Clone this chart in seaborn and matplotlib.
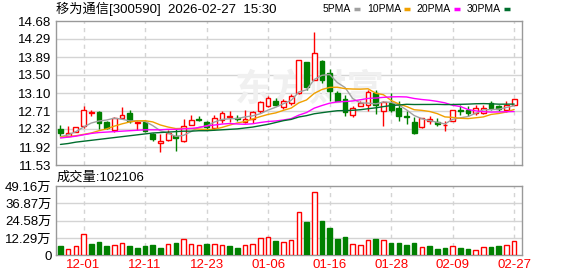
import matplotlib
matplotlib.use("Agg")
import matplotlib.pyplot as plt
from matplotlib.lines import Line2D
import seaborn as sns
import numpy as np
import pandas as pd

# ---------------- data ----------------
dates = ["11-26", "11-27", "11-28", "12-01", "12-02", "12-03", "12-04", "12-05", "12-08", "12-09",
         "12-10", "12-11", "12-12", "12-15", "12-16", "12-17", "12-18", "12-19", "12-22", "12-23",
         "12-24", "12-25", "12-26", "12-29", "12-30", "12-31", "01-05", "01-06", "01-07", "01-08",
         "01-09", "01-12", "01-13", "01-14", "01-15", "01-16", "01-19", "01-20", "01-21", "01-22",
         "01-23", "01-26", "01-27", "01-28", "01-29", "01-30", "02-02", "02-03", "02-04", "02-05",
         "02-06", "02-09", "02-10", "02-11", "02-12", "02-13", "02-24", "02-25", "02-26", "02-27"]

open_ = [12.32, 12.17, 12.25, 12.38, 12.67, 12.68, 12.47, 12.30, 12.56, 12.67,
         12.45, 12.47, 12.20, 12.01, 12.07, 12.16, 12.05, 12.41, 12.54, 12.47,
         12.34, 12.52, 12.58, 12.56, 12.47, 12.54, 12.71, 12.82, 12.92, 12.79,
         12.89, 13.11, 13.78, 13.40, 13.80, 13.55, 13.11, 12.98, 12.62, 12.82,
         12.85, 13.11, 12.71, 12.89, 12.77, 12.61, 12.47, 12.36, 12.50, 12.47,
         12.40, 12.50, 12.73, 12.73, 12.67, 12.67, 12.89, 12.82, 12.74, 12.85]
high = [12.41, 12.39, 12.37, 12.82, 12.74, 12.71, 12.50, 12.58, 12.79, 12.73,
        12.50, 12.51, 12.23, 12.20, 12.30, 12.34, 12.54, 12.63, 12.61, 12.49,
        12.63, 12.71, 12.71, 12.62, 12.74, 12.71, 12.92, 13.05, 13.00, 12.98,
        13.09, 13.82, 13.78, 14.44, 13.82, 13.62, 13.14, 13.06, 12.82, 12.94,
        13.16, 13.16, 12.94, 13.11, 12.94, 12.72, 12.58, 12.56, 12.60, 12.55,
        12.49, 12.74, 12.84, 12.82, 12.84, 12.85, 12.93, 12.85, 12.93, 12.98]
low = [12.16, 12.16, 12.25, 12.34, 12.60, 12.31, 12.31, 12.25, 12.56, 12.45,
       12.30, 12.25, 12.05, 11.81, 12.05, 11.83, 12.03, 12.41, 12.49, 12.30,
       12.30, 12.45, 12.47, 12.49, 12.44, 12.44, 12.67, 12.80, 12.82, 12.76,
       12.85, 13.09, 13.18, 13.38, 13.33, 12.93, 12.93, 12.60, 12.58, 12.82,
       12.72, 12.65, 12.38, 12.69, 12.49, 12.42, 12.21, 12.33, 12.42, 12.38,
       12.27, 12.49, 12.63, 12.60, 12.63, 12.65, 12.74, 12.72, 12.69, 12.85]
close = [12.23, 12.23, 12.36, 12.74, 12.68, 12.45, 12.34, 12.56, 12.63, 12.49,
         12.47, 12.27, 12.10, 12.06, 12.23, 12.12, 12.38, 12.52, 12.52, 12.36,
         12.56, 12.67, 12.60, 12.54, 12.54, 12.68, 12.90, 13.00, 12.85, 12.92,
         13.05, 13.82, 13.23, 13.98, 13.38, 13.14, 12.94, 12.69, 12.77, 12.89,
         13.13, 12.85, 12.90, 12.74, 12.60, 12.59, 12.23, 12.55, 12.53, 12.42,
         12.41, 12.74, 12.71, 12.67, 12.78, 12.78, 12.77, 12.76, 12.85, 12.98]
volume_wan = [6.4, 4.8, 6.3, 14.8, 7.8, 9.2, 6.4, 7.0, 9.0, 6.4,
              5.1, 6.4, 7.1, 4.9, 8.3, 8.6, 11.8, 7.7, 7.0, 7.8,
              8.3, 7.0, 6.4, 5.1, 7.0, 7.8, 12.5, 13.3, 9.9, 9.2,
              11.1, 30.6, 23.6, 44.8, 24.3, 19.4, 11.8, 13.2, 8.1, 7.4,
              10.9, 11.8, 10.9, 8.6, 9.0, 7.6, 9.0, 6.0, 6.9, 4.2,
              4.9, 6.7, 4.9, 4.2, 3.9, 6.0, 5.6, 6.3, 7.4, 10.21]

# moving-average values at the start of the window (history before the window)
ma5_head = [12.15, 12.19, 12.26, 12.36]
ma10_head = [12.14, 12.15, 12.17, 12.20, 12.23, 12.28, 12.32, 12.38, 12.43]
ma20_head = [12.12, 12.14, 12.16, 12.19, 12.22, 12.24, 12.25, 12.26, 12.27, 12.28,
             12.29, 12.30, 12.30, 12.30, 12.31, 12.31, 12.32, 12.33, 12.35]
ma30_head = [11.98, 12.00, 12.03, 12.05, 12.07, 12.09, 12.11, 12.13, 12.15, 12.17,
             12.19, 12.21, 12.23, 12.24, 12.25, 12.26, 12.27, 12.27, 12.28, 12.28,
             12.29, 12.30, 12.31, 12.32, 12.34, 12.36, 12.39, 12.42, 12.46]

price_ticks = [14.68, 14.29, 13.89, 13.50, 13.10, 12.71, 12.32, 11.92, 11.53]
volume_ticks = [0, 12.29, 24.58, 36.87, 49.16]
date_ticks = ["12-01", "12-11", "12-23", "01-06", "01-16", "01-28", "02-09", "02-27"]
title_text = "移为通信[300590]  2026-02-27  15:30"
volume_label = "成交量:102106"
ma_names = ["5PMA", "10PMA", "20PMA", "30PMA"]

# ---------------- styling ----------------
RED = "#ff0000"
GREEN = "#008000"
MA_COLORS = ["#a0a0a0", "#f0a000", "#ff00ff", "#006e2e"]
GRID = "#d4d4d4"
FRAME = "#999999"

sns.set_theme(style="white")
plt.rcParams["font.family"] = ["Liberation Sans", "Noto Sans CJK SC"]

W, H = 578, 276
fig = plt.figure(figsize=(W / 100, H / 100), dpi=100)
fig.patch.set_facecolor("white")

def fx(px):
    return px / W

def fy(py):
    return 1 - py / H

left, right = 55.7, 522
ax1 = fig.add_axes([fx(left), fy(165), fx(right - left), (165 - 21) / H])
ax2 = fig.add_axes([fx(left), fy(255.3), fx(right - left), (255.3 - 186) / H])

n = len(dates)
x = np.arange(n)
df = pd.DataFrame({"x": x, "open": open_, "high": high, "low": low,
                   "close": close, "vol": volume_wan})

def ma(series, k, head):
    m = series.rolling(k).mean().to_numpy()
    m[:k - 1] = head
    return m

df["ma5"] = ma(df["close"], 5, ma5_head)
df["ma10"] = ma(df["close"], 10, ma10_head)
df["ma20"] = ma(df["close"], 20, ma20_head)
df["ma30"] = ma(df["close"], 30, ma30_head)

for ax in (ax1, ax2):
    ax.set_facecolor("white")
    for s in ax.spines.values():
        s.set_color(FRAME)
        s.set_linewidth(1)
    ax.set_xlim(-0.62, n + 0.02)

xt = [dates.index(d) for d in date_ticks]

# ---- price panel ----
ax1.set_ylim(price_ticks[-1], price_ticks[0])
for t in price_ticks[1:-1]:
    ax1.axhline(t, color=GRID, lw=1, zorder=0)
for t in xt:
    ax1.axvline(t, color=GRID, lw=1, ls=(0, (3, 3)), zorder=0)
    ax2.axvline(t, color=GRID, lw=1, ls=(0, (3, 3)), zorder=0)

ax1.text(0.545, 0.52, "东方财富", transform=ax1.transAxes, fontsize=27,
         color="#f0f0f0", ha="center", va="center", zorder=0,
         family=["Noto Sans CJK SC"], fontweight="bold")

up = df["close"] >= df["open"]
body_w = 0.62
for i, r in df.iterrows():
    col = RED if up[i] else GREEN
    ax1.vlines(r["x"], r["low"], r["high"], color=col, lw=1, zorder=2)
    h = max(abs(r["close"] - r["open"]), 0.004)
    ax1.bar(r["x"], h, bottom=min(r["open"], r["close"]), width=body_w,
            facecolor="white" if up[i] else GREEN, edgecolor=col,
            linewidth=1, zorder=3)

for k, c in zip(["ma5", "ma10", "ma20", "ma30"], MA_COLORS):
    sns.lineplot(data=df, x="x", y=k, ax=ax1, color=c, lw=1, zorder=4,
                 legend=False)

ax1.set_yticks(price_ticks)
ax1.set_yticklabels([f"{t:.2f}" for t in price_ticks])
ax1.set_xticks([])
ax1.set_xlabel("")
ax1.set_ylabel("")
ax1.tick_params(axis="y", length=0, pad=3, labelsize=9.5, colors="#000000")

# ---- volume panel ----
ax2.set_ylim(0, volume_ticks[-1])
for t in volume_ticks[1:-1]:
    ax2.axhline(t, color=GRID, lw=1, zorder=0)

prev_close = df["close"].shift(1)
vol_up = (df["close"] >= prev_close)
vol_up.iloc[0] = bool(up.iloc[0])
for i, r in df.iterrows():
    col = RED if vol_up[i] else GREEN
    ax2.bar(r["x"], r["vol"], width=0.6,
            facecolor="white" if vol_up[i] else GREEN, edgecolor=col,
            linewidth=1, zorder=3)

ax2.set_yticks(volume_ticks)
ax2.set_yticklabels(["0"] + [f"{t:.2f}万" for t in volume_ticks[1:]])
ax2.tick_params(axis="y", length=0, pad=3, labelsize=9.5, colors="#000000")
ax2.set_xticks(xt)
ax2.set_xticklabels(date_ticks)
ax2.tick_params(axis="x", length=0, pad=3, labelsize=9.5, colors=RED)

# ---- texts ----
fig.text(fx(56), fy(9), title_text, fontsize=9.5, ha="left", va="center",
         color="#000000")
fig.text(fx(57), fy(177.5), volume_label, fontsize=9.5, ha="left", va="center",
         color="#000000")

# legend laid out from the right edge using measured text widths
fig.canvas.draw()
renderer = fig.canvas.get_renderer()
gap_txt, sw_len, gap_item = 3, 6, 7
texts = [fig.text(0, fy(9), nm, fontsize=7.5, ha="left", va="center",
                  color="#000000") for nm in ma_names]
widths = [t.get_window_extent(renderer).width for t in texts]
xpos = 510
for t, w, c in reversed(list(zip(texts, widths, MA_COLORS))):
    sw_end = xpos
    sw_start = sw_end - sw_len
    fig.add_artist(Line2D([fx(sw_start), fx(sw_end)], [fy(9), fy(9)], color=c,
                          lw=2.5, transform=fig.transFigure,
                          solid_capstyle="butt"))
    tx = sw_start - gap_txt - w
    t.set_x(fx(tx))
    xpos = tx - gap_item

fig.savefig("out.png", dpi=100, facecolor="white")
